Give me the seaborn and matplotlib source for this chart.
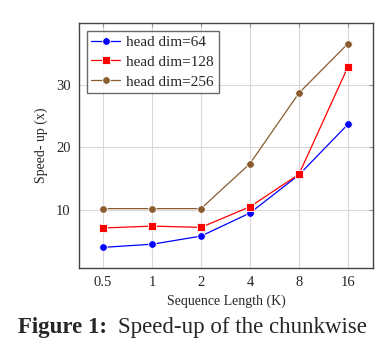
import matplotlib
matplotlib.use("Agg")
import matplotlib.pyplot as plt
import pandas as pd
import seaborn as sns

# data
seq_len = [0.5, 1, 2, 4, 8, 16]
tick_labels = ["0.5", "1", "2", "4", "8", "16"]
speedup_64 = [4.0, 4.5, 5.8, 9.5, 15.6, 23.7]
speedup_128 = [7.1, 7.4, 7.2, 10.5, 15.7, 32.9]
speedup_256 = [10.2, 10.2, 10.2, 17.4, 28.7, 36.6]
series_names = ["head dim=64", "head dim=128", "head dim=256"]

df = pd.DataFrame({
    "seq": seq_len * 3,
    "speedup": speedup_64 + speedup_128 + speedup_256,
    "series": [series_names[0]] * 6 + [series_names[1]] * 6 + [series_names[2]] * 6,
})

sns.set_style("white")
plt.rcParams["font.family"] = ["Liberation Serif", "DejaVu Serif"]

fig = plt.figure(figsize=(3.9, 3.4), dpi=100)
ax = fig.add_axes([0.2026, 0.2118, 0.7538, 0.7206])

palette = {series_names[0]: "#0000ff", series_names[1]: "#ff0000", series_names[2]: "#8a5c2e"}
markers = {series_names[0]: "o", series_names[1]: "s", series_names[2]: "o"}

sns.lineplot(data=df, x="seq", y="speedup", hue="series", style="series",
             palette=palette, markers=markers, dashes=False, linewidth=0.9,
             markersize=5.5, markeredgewidth=0.6, ax=ax)

ax.set_xscale("log", base=2)
ax.set_xlim(0.356, 22.8)
ax.set_ylim(0.7, 39.9)
ax.set_xticks(seq_len)
ax.set_xticklabels(tick_labels)
ax.minorticks_off()
ax.set_yticks([10, 20, 30])

ax.grid(True, color="#d9d9d9", linewidth=0.8)
ax.set_axisbelow(True)
for s in ax.spines.values():
    s.set_color("#444444")
    s.set_linewidth(1.0)
ax.tick_params(direction="in", length=3, color="#999999", labelsize=10.5,
               top=True, right=True, pad=6)

ax.set_xlabel("Sequence Length (K)", fontsize=10, labelpad=4)
ax.set_ylabel("Speed- up (x)", fontsize=10, labelpad=6)

leg = ax.legend(loc="upper left", fontsize=11, frameon=True, fancybox=False,
                edgecolor="#444444", borderpad=0.3, handlelength=1.9,
                handletextpad=0.4, labelspacing=0.4, borderaxespad=0.5)
leg.get_frame().set_linewidth(1.0)

# caption of the paper figure at the bottom of the screenshot
fig.text(18 / 390, 0.022, "Figure 1:", fontsize=16.5, fontweight="bold", ha="left", va="baseline")
fig.text(118 / 390, 0.022, "Speed-up of the chunkwise", fontsize=16.5, ha="left", va="baseline")

fig.savefig("out.png", dpi=100)
